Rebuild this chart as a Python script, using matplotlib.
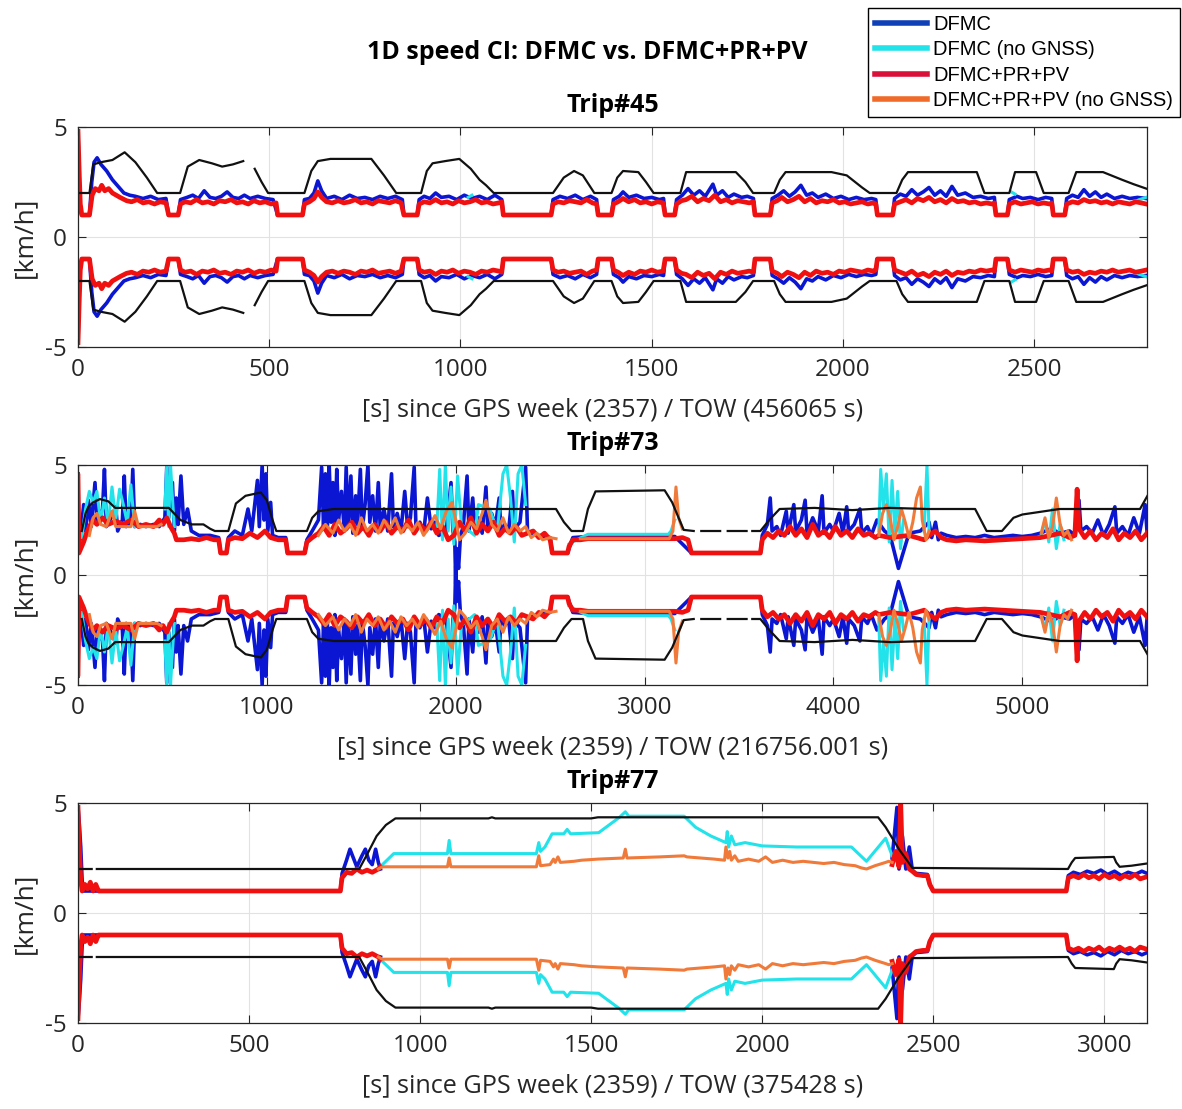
import numpy as np
import matplotlib.pyplot as plt
from matplotlib.lines import Line2D

nan = np.nan

# ---- data: upper CI bound (time [s], km/h); lower bound drawn as the mirror ----
# Trip#45
t45_black = [(5, 2.0), (30, 2.0), (40, 3.3), (60, 3.4), (90, 3.5), (122, 3.85), (150, 3.4), (180, 2.7),
             (207, 2.0), (267, 2.0), (287, 3.2), (317, 3.5), (350, 3.35), (377, 3.2), (405, 3.3), (432, 3.45),
             (nan, nan), (462, 3.1), (480, 2.5), (497, 2.0), (592, 2.0), (610, 3.0), (627, 3.45), (660, 3.55),
             (700, 3.55), (767, 3.55), (800, 2.8), (832, 2.0), (897, 2.0), (912, 3.0), (927, 3.35), (960, 3.45),
             (997, 3.55), (1027, 3.1), (1050, 2.6), (1067, 2.35), (1087, 2.0), (1242, 2.0), (1270, 2.7),
             (1297, 3.0), (1320, 2.8), (1350, 2.0), (1395, 2.0), (1410, 2.7), (1425, 3.0), (1465, 2.95),
             (1485, 2.5), (1505, 2.0), (1575, 2.0), (1590, 2.95), (1720, 2.95), (1745, 2.5), (1765, 2.0),
             (1820, 2.0), (1835, 2.6), (1850, 2.95), (1970, 2.95), (2010, 2.8), (2050, 2.25), (2070, 2.0),
             (2140, 2.0), (2155, 2.6), (2170, 2.95), (2350, 2.95), (2370, 2.0), (2435, 2.0), (2450, 2.95),
             (2505, 2.95), (2525, 2.0), (2590, 2.0), (2610, 2.95), (2680, 2.95), (2730, 2.6), (2760, 2.4),
             (2793, 2.2)]
t45_blue = [(0, 4.8), (3, 2.5), (6, 1.2), (10, 1.0), (30, 1.0), (36, 2.5), (42, 3.4), (50, 3.6), (60, 3.3),
            (75, 3.0), (90, 2.6), (105, 2.3), (120, 2.0), (135, 1.9), (150, 1.85), (170, 1.75), (190, 1.85),
            (210, 1.7), (230, 1.75), (237, 1.0), (262, 1.0), (268, 1.7), (285, 1.8), (300, 1.9), (315, 1.75),
            (330, 2.1), (345, 1.8), (360, 1.75), (375, 1.85), (390, 2.05), (405, 1.8), (420, 1.75), (435, 1.9),
            (450, 1.75), (470, 1.85), (490, 1.75), (510, 1.7), (522, 1.0), (587, 1.0), (592, 1.7), (605, 1.75),
            (617, 2.0), (627, 2.55), (637, 2.1), (650, 1.75), (670, 1.85), (690, 1.7), (710, 1.9), (730, 1.75),
            (750, 1.8), (770, 1.7), (790, 1.85), (810, 1.75), (830, 1.85), (848, 1.7), (852, 1.0), (887, 1.0),
            (892, 1.7), (905, 1.85), (920, 1.75), (935, 2.0), (950, 1.8), (970, 1.85), (990, 1.7), (1010, 1.9),
            (1030, 1.75), (1050, 1.85), (1070, 1.7), (1090, 1.9), (1108, 1.7), (1112, 1.0), (1237, 1.0),
            (1242, 1.7), (1260, 1.85), (1280, 1.75), (1300, 1.9), (1320, 1.7), (1340, 1.85), (1356, 1.7),
            (1360, 1.0), (1395, 1.0), (1400, 1.7), (1415, 1.85), (1425, 2.05), (1440, 1.8), (1460, 1.9),
            (1480, 1.75), (1500, 1.8), (1520, 1.7), (1531, 1.75), (1535, 1.0), (1560, 1.0), (1565, 1.7),
            (1580, 1.9), (1595, 2.2), (1610, 1.9), (1625, 2.1), (1640, 1.85), (1660, 2.4), (1670, 1.9),
            (1685, 2.1), (1700, 1.8), (1715, 1.95), (1735, 1.8), (1750, 1.85), (1766, 1.75), (1770, 1.0),
            (1810, 1.0), (1815, 1.75), (1830, 1.9), (1845, 2.1), (1860, 1.85), (1875, 2.05), (1890, 2.35),
            (1905, 1.9), (1920, 2.0), (1935, 1.8), (1955, 1.95), (1975, 1.75), (1995, 1.85), (2015, 1.7),
            (2035, 1.8), (2055, 1.7), (2075, 1.75), (2086, 1.7), (2090, 1.0), (2130, 1.0), (2135, 1.75),
            (2150, 1.95), (2165, 1.85), (2180, 2.15), (2195, 1.9), (2210, 2.05), (2225, 2.25), (2240, 1.9),
            (2255, 2.1), (2270, 1.85), (2285, 2.3), (2300, 1.9), (2320, 2.0), (2340, 1.8), (2360, 1.85),
            (2380, 1.75), (2396, 1.8), (2400, 1.0), (2430, 1.0), (2435, 1.7), (2455, 1.85), (2470, 1.75),
            (2490, 1.8), (2510, 1.7), (2530, 1.8), (2546, 1.75), (2550, 1.0), (2580, 1.0), (2585, 1.75),
            (2600, 1.9), (2615, 1.8), (2630, 2.15), (2645, 1.85), (2660, 2.05), (2675, 1.8), (2690, 1.95),
            (2710, 1.75), (2730, 1.85), (2750, 1.75), (2770, 1.8), (2793, 1.75)]
t45_cyan = [(1020, 1.8), (1030, 1.9), (nan, nan), (2440, 2.05), (2450, 1.95), (nan, nan), (2775, 1.7), (2793, 1.8)]
t45_red = [(0, 4.8), (3, 3.0), (6, 1.5), (10, 1.0), (30, 1.0), (37, 1.9), (45, 2.2), (55, 2.1), (62, 2.35),
           (70, 2.1), (80, 2.2), (90, 2.0), (100, 1.9), (110, 1.8), (127, 1.65), (140, 1.6), (155, 1.7),
           (170, 1.55), (185, 1.6), (200, 1.5), (215, 1.6), (230, 1.55), (237, 1.0), (262, 1.0), (268, 1.5),
           (280, 1.6), (295, 1.55), (310, 1.7), (325, 1.55), (340, 1.6), (355, 1.5), (370, 1.65), (385, 1.6),
           (400, 1.7), (415, 1.55), (430, 1.6), (445, 1.5), (460, 1.65), (475, 1.55), (490, 1.6), (505, 1.5),
           (518, 1.55), (522, 1.0), (587, 1.0), (592, 1.5), (605, 1.6), (617, 1.75), (627, 2.05), (637, 1.8),
           (650, 1.6), (665, 1.55), (680, 1.65), (695, 1.55), (710, 1.6), (725, 1.7), (740, 1.55), (755, 1.6),
           (770, 1.5), (785, 1.65), (800, 1.6), (815, 1.55), (830, 1.65), (845, 1.55), (852, 1.0), (887, 1.0),
           (892, 1.5), (905, 1.6), (920, 1.55), (935, 1.7), (950, 1.55), (965, 1.6), (980, 1.5), (995, 1.65),
           (1010, 1.55), (1025, 1.6), (1040, 1.7), (1055, 1.55), (1070, 1.6), (1085, 1.5), (1100, 1.55),
           (1108, 1.6), (1112, 1.0), (1237, 1.0), (1242, 1.5), (1255, 1.6), (1270, 1.55), (1285, 1.65),
           (1300, 1.6), (1315, 1.55), (1330, 1.7), (1345, 1.55), (1356, 1.5), (1360, 1.0), (1395, 1.0),
           (1400, 1.5), (1412, 1.6), (1425, 1.75), (1440, 1.6), (1455, 1.7), (1470, 1.55), (1485, 1.6),
           (1500, 1.5), (1515, 1.6), (1530, 1.55), (1535, 1.0), (1560, 1.0), (1565, 1.5), (1578, 1.65),
           (1590, 1.7), (1605, 1.85), (1620, 1.6), (1635, 1.75), (1650, 1.65), (1665, 1.9), (1680, 1.6),
           (1695, 1.7), (1710, 1.55), (1725, 1.65), (1740, 1.6), (1755, 1.55), (1766, 1.6), (1770, 1.0),
           (1810, 1.0), (1815, 1.55), (1828, 1.65), (1840, 1.8), (1855, 1.6), (1870, 1.7), (1885, 1.85),
           (1900, 1.6), (1915, 1.75), (1930, 1.55), (1945, 1.65), (1960, 1.6), (1975, 1.7), (1990, 1.55),
           (2005, 1.6), (2020, 1.5), (2035, 1.55), (2050, 1.6), (2065, 1.5), (2080, 1.55), (2086, 1.5),
           (2090, 1.0), (2130, 1.0), (2135, 1.5), (2150, 1.6), (2165, 1.7), (2180, 1.55), (2195, 1.75),
           (2210, 1.65), (2225, 1.8), (2240, 1.6), (2255, 1.7), (2270, 1.55), (2285, 1.75), (2300, 1.6),
           (2315, 1.65), (2330, 1.55), (2345, 1.6), (2360, 1.5), (2375, 1.55), (2390, 1.5), (2396, 1.55),
           (2400, 1.0), (2430, 1.0), (2435, 1.5), (2450, 1.6), (2465, 1.5), (2480, 1.55), (2495, 1.6),
           (2510, 1.5), (2525, 1.55), (2540, 1.5), (2546, 1.55), (2550, 1.0), (2580, 1.0), (2585, 1.5),
           (2600, 1.6), (2615, 1.55), (2630, 1.7), (2645, 1.6), (2660, 1.65), (2675, 1.55), (2690, 1.6),
           (2705, 1.5), (2720, 1.6), (2735, 1.55), (2750, 1.5), (2765, 1.6), (2780, 1.55), (2793, 1.5)]
t45_orange = []

# Trip#73
t73_black = [(20, 2.0), (40, 2.8), (55, 3.1), (80, 3.3), (116, 3.45), (160, 3.35), (197, 3.05), (481, 3.05),
             (542, 2.5), (603, 2.3), (664, 2.3), (700, 2.1), (725, 2.0), (796, 2.0), (836, 3.25), (887, 3.6),
             (968, 3.75), (1000, 3.4), (1030, 2.5), (1050, 2.0), (1212, 2.0), (1240, 2.6), (1273, 2.9),
             (1354, 3.0), (2531, 3.0), (2573, 2.4), (2613, 2.0), (2674, 2.0), (2700, 3.0), (2740, 3.8),
             (3106, 3.85), (3146, 3.3), (3180, 2.6), (3207, 2.05), (3260, 2.0), (nan, nan), (3300, 2.0),
             (3400, 2.0), (nan, nan), (3440, 2.0), (3540, 2.0), (nan, nan), (3570, 2.0), (3613, 2.0),
             (3660, 2.5), (3715, 3.0), (3900, 3.05), (4100, 2.95), (4300, 3.05), (4500, 3.0), (4750, 3.0),
             (4811, 2.0), (4892, 2.0), (4953, 2.6), (5000, 2.75), (5197, 3.0), (5623, 3.0), (5669, 3.7)]
t73_blue = [(0, 4.6), (5, 1.2), (20, 2.3), (30, 3.2), (40, 2.0), (55, 3.4), (70, 2.2), (90, 4.2), (100, 2.5),
            (130, 3.0), (140, 4.8), (150, 2.2), (175, 2.6), (200, 3.1), (210, 2.0), (235, 2.5), (245, 4.5),
            (255, 2.2), (280, 2.4), (290, 4.8), (300, 2.2), (330, 2.3), (360, 2.2), (400, 2.3), (430, 2.2),
            (460, 2.6), (470, 4.9), (480, 2.6), (500, 4.2), (510, 2.0), (520, 3.5), (530, 2.3), (545, 4.5),
            (560, 2.3), (580, 3.0), (600, 2.0), (640, 1.8), (700, 1.8), (745, 1.7), (755, 1.0), (786, 1.0),
            (796, 1.7), (830, 2.0), (870, 1.8), (900, 3.0), (920, 2.0), (950, 4.3), (960, 2.2), (975, 5.0),
            (985, 2.5), (995, 4.6), (1005, 2.0), (1020, 3.3), (1030, 1.8), (1060, 1.7), (1100, 1.7),
            (1110, 1.0), (1200, 1.0), (1212, 1.6), (1240, 2.0), (1273, 2.5), (1290, 4.9), (1300, 2.2),
            (1310, 4.6), (1320, 2.0), (1330, 5.0), (1340, 2.4), (1350, 4.2), (1360, 1.8), (1370, 4.8),
            (1380, 2.5), (1395, 3.8), (1410, 2.0), (1420, 4.9), (1430, 2.2), (1445, 4.5), (1455, 1.9),
            (1470, 3.6), (1480, 2.3), (1495, 4.8), (1505, 2.1), (1520, 3.2), (1535, 5.0), (1545, 2.4),
            (1560, 3.6), (1575, 2.0), (1590, 4.2), (1600, 2.2), (1620, 3.0), (1640, 2.0), (1660, 4.6),
            (1670, 2.2), (1690, 2.8), (1710, 2.0), (1730, 3.8), (1745, 2.2), (1760, 2.6), (1780, 4.9),
            (1790, 2.0), (1810, 2.4), (1830, 1.9), (1850, 3.5), (1870, 2.1), (1890, 2.4), (1910, 1.8),
            (1950, 2.0), (1975, 4.2), (1985, 2.0), (1995, 1.5), (2000, -0.4), (2005, 1.2), (2015, 0.3),
            (2025, 1.8), (2040, 2.2), (2060, 4.5), (2070, 2.0), (2090, 3.5), (2100, 2.2), (2120, 2.6),
            (2140, 1.9), (2160, 4.0), (2170, 2.0), (2190, 2.8), (2210, 2.2), (2230, 3.5), (2240, 1.9),
            (2260, 2.3), (2280, 2.0), (2300, 3.8), (2310, 2.1), (2340, 2.4), (2370, 4.9), (2380, 2.0),
            (2400, 1.9), (2440, 1.8), (2500, 1.7), (2511, 1.0), (2592, 1.0), (2620, 1.7), (2700, 1.75),
            (3160, 1.75), (3248, 1.0), (3613, 1.0), (3623, 1.8), (3650, 2.3), (3665, 3.5), (3675, 2.0),
            (3700, 2.2), (3720, 1.8), (3750, 2.9), (3760, 1.9), (3790, 3.2), (3800, 2.0), (3830, 2.5),
            (3850, 3.4), (3860, 1.9), (3890, 2.6), (3920, 2.0), (3940, 3.6), (3950, 1.9), (3980, 2.3),
            (4000, 2.0), (4030, 2.8), (4050, 1.9), (4070, 3.1), (4080, 2.0), (4110, 2.3), (4140, 3.0),
            (4150, 1.9), (4180, 2.2), (4200, 1.8), (4230, 2.5), (4270, 2.0), (4300, 1.8), (4344, 0.3),
            (4400, 1.9), (4460, 2.0), (4506, 2.4), (4520, 1.7), (4540, 2.4), (4555, 1.6), (4570, 1.9),
            (4600, 1.8), (4650, 1.7), (4700, 1.75), (4750, 1.7), (4800, 1.8), (4850, 1.7), (4900, 1.75),
            (4950, 1.8), (5000, 1.75), (5050, 1.8), (5095, 1.9), (5150, 2.1), (5200, 1.9), (5250, 2.0),
            (5280, 1.8), (5300, 3.4), (5310, 2.0), (5340, 2.2), (5370, 1.9), (5400, 2.5), (5430, 1.8),
            (5460, 2.3), (5490, 3.1), (5500, 1.9), (5530, 2.2), (5560, 1.8), (5590, 2.6), (5620, 1.9),
            (5650, 3.2), (5660, 2.0)]
t73_cyan = [(20, 1.7), (40, 3.0), (60, 3.8), (80, 3.3), (100, 3.8), (120, 2.4), (140, 3.5), (160, 2.3),
            (180, 4.0), (200, 2.5), (220, 3.9), (240, 3.2), (260, 2.4), (280, 4.1), (300, 2.2), (nan, nan),
            (460, 3.0), (470, 5.0), (480, 2.2), (490, 5.0), (500, 3.5), (510, 2.2), (nan, nan),
            (1900, 2.2), (1915, 4.8), (1930, 1.6), (1945, 5.0), (1960, 2.0), (1975, 4.0), (1990, 1.4),
            (2010, 4.5), (2030, 2.3), (2100, 1.8), (2120, 3.2), (2180, 3.0), (2220, 2.0), (2250, 4.6),
            (2270, 5.0), (2290, 3.5), (2310, 1.5), (2330, 4.6), (2350, 5.0), (2370, 3.2), (nan, nan),
            (2600, 1.4), (2640, 1.6), (2700, 1.85), (3126, 1.85), (3140, 2.0), (3160, 2.5), (nan, nan),
            (4240, 2.0), (4250, 4.8), (4265, 3.0), (4280, 4.6), (4295, 1.5), (4310, 4.3), (4325, 2.0),
            (4340, 3.8), (4355, 1.2), (4370, 2.5), (nan, nan), (4480, 2.0), (4495, 5.0), (4506, 2.0),
            (nan, nan), (5100, 1.8), (5120, 2.5), (5140, 1.5), (5160, 3.0), (5180, 1.2), (5200, 2.3),
            (5220, 1.6)]
t73_red = [(0, 4.5), (5, 1.0), (15, 1.2), (30, 1.5), (45, 1.9), (60, 2.2), (80, 2.5), (100, 2.3), (130, 2.6),
           (160, 2.3), (200, 2.45), (240, 2.3), (280, 2.5), (320, 2.2), (360, 2.3), (400, 2.2), (430, 2.5),
           (450, 2.3), (470, 2.6), (490, 2.2), (510, 1.9), (521, 1.6), (560, 1.6), (600, 1.65), (640, 1.6),
           (680, 1.7), (720, 1.6), (745, 1.6), (755, 1.0), (786, 1.0), (796, 1.6), (830, 1.7), (870, 1.65),
           (910, 1.9), (950, 1.7), (990, 2.0), (1020, 1.7), (1060, 1.6), (1100, 1.6), (1110, 1.0),
           (1200, 1.0), (1212, 1.5), (1240, 1.7), (1273, 1.9), (1300, 2.2), (1330, 1.8), (1360, 2.3),
           (1390, 1.9), (1420, 2.1), (1450, 2.4), (1480, 1.9), (1510, 2.2), (1540, 1.8), (1570, 2.3),
           (1600, 2.0), (1630, 2.4), (1660, 1.9), (1690, 2.2), (1720, 2.0), (1750, 2.5), (1780, 1.9),
           (1810, 2.3), (1840, 2.0), (1870, 2.4), (1900, 1.9), (1930, 2.2), (1960, 1.6), (1990, 1.8),
           (2020, 2.4), (2050, 2.0), (2080, 2.6), (2110, 1.9), (2140, 2.3), (2170, 2.0), (2200, 2.4),
           (2230, 1.8), (2260, 2.1), (2290, 1.9), (2320, 2.2), (2350, 1.8), (2380, 1.9), (2410, 2.0),
           (2440, 1.7), (2470, 1.9), (2500, 1.6), (2511, 1.0), (2592, 1.0), (2600, 1.3), (2620, 1.6),
           (2660, 1.6), (2700, 1.65), (2750, 1.65), (3160, 1.65), (3200, 1.7), (3230, 1.6), (3248, 1.0),
           (3613, 1.0), (3623, 1.6), (3650, 1.9), (3680, 1.7), (3710, 2.0), (3740, 1.8), (3770, 2.2),
           (3800, 1.8), (3830, 2.1), (3860, 1.7), (3890, 2.3), (3920, 1.8), (3950, 2.0), (3980, 1.7),
           (4010, 2.2), (4040, 1.8), (4070, 2.0), (4100, 1.7), (4130, 2.1), (4160, 1.8), (4190, 1.9),
           (4222, 1.7), (4240, 1.8), (4300, 1.7), (4400, 1.8), (4480, 1.6), (4506, 1.8), (4540, 2.0),
           (4570, 1.7), (4600, 1.6), (4650, 1.55), (4700, 1.6), (4800, 1.55), (4900, 1.6), (5000, 1.65),
           (5095, 1.7), (5150, 1.8), (5200, 1.9), (5250, 1.7), (5278, 1.8), (5290, 3.9), (5300, 2.1),
           (5330, 1.7), (5360, 2.0), (5390, 1.6), (5420, 1.9), (5450, 1.7), (5480, 2.1), (5510, 1.6),
           (5540, 1.9), (5570, 1.7), (5600, 2.0), (5630, 1.6), (5660, 1.9)]
t73_orange = [(60, 1.8), (80, 2.6), (100, 2.8), (120, 2.3), (150, 2.2), (180, 2.9), (200, 2.2), (240, 2.2),
              (280, 2.2), (300, 2.9), (320, 2.2), (380, 2.2), (420, 2.2), (440, 2.3), (nan, nan),
              (1273, 1.8), (1310, 2.3), (1350, 1.9), (1380, 2.5), (1410, 2.0), (1440, 2.3), (1470, 1.8),
              (1500, 2.6), (1530, 2.0), (1560, 2.3), (1590, 1.9), (1620, 2.5), (1650, 2.1), (1680, 2.6),
              (1710, 1.9), (1740, 2.3), (1770, 2.0), (1800, 2.4), (1830, 1.8), (1860, 2.2), (1890, 2.7),
              (1920, 2.1), (1950, 2.9), (1980, 3.3), (2000, 2.5), (2020, 1.6), (2050, 1.9), (2080, 2.4),
              (2110, 2.1), (2140, 2.8), (2160, 3.4), (2190, 2.3), (2220, 2.0), (2250, 2.6), (2280, 1.9),
              (2310, 2.3), (2340, 2.0), (2370, 2.2), (2400, 1.7), (2430, 1.9), (2460, 1.6), (2500, 1.7),
              (2531, 1.65), (nan, nan), (2660, 1.65), (3130, 1.65), (3150, 2.0), (3166, 4.0), (3180, 2.6),
              (3200, 2.1), (nan, nan), (4240, 1.8), (4260, 2.8), (4280, 3.2), (4300, 2.6), (4320, 1.6),
              (4340, 2.2), (4360, 3.0), (4380, 2.4), (4400, 1.7), (4420, 2.4), (4440, 3.5), (4460, 4.0),
              (4470, 2.5), (4490, 1.6), (4506, 2.0), (nan, nan), (5100, 1.9), (5120, 2.6), (5140, 1.7),
              (5160, 2.2), (5180, 3.5), (5200, 2.3), (5220, 1.8), (5240, 2.0), (5260, 1.6)]

# Trip#77
t77_black = [(0, 2.0), (40, 2.0), (nan, nan), (55, 2.0), (822, 2.0), (845, 2.66), (873, 3.5), (900, 4.0),
             (928, 4.3), (1200, 4.3), (1210, 4.35), (1220, 4.3), (1500, 4.3), (1520, 4.35), (2339, 4.35),
             (2361, 3.9), (2400, 2.9), (2439, 2.05), (2894, 2.0), (2905, 2.3), (2915, 2.5), (3028, 2.55),
             (3035, 2.3), (3045, 2.1), (3080, 2.15), (3125, 2.25)]
t77_blue = [(0, 4.8), (4, 4.0), (8, 3.0), (12, 1.5), (16, 1.0), (64, 1.0), (767, 1.0), (772, 1.8), (785, 2.4),
            (795, 2.9), (805, 2.5), (815, 2.1), (830, 2.6), (840, 2.9), (850, 2.4), (860, 2.2), (870, 2.9),
            (878, 2.3), (884, 2.0), (nan, nan), (2380, 2.5), (2394, 4.8), (2400, 2.0), (2410, 3.5),
            (2420, 2.0), (2430, 3.0), (2439, 1.95), (2450, 1.8), (2483, 1.75), (2490, 1.3), (2500, 1.0),
            (2889, 1.0), (2895, 1.7), (2910, 1.85), (2930, 1.75), (2950, 1.9), (2970, 1.8), (2990, 1.95),
            (3010, 1.75), (3030, 1.9), (3050, 1.7), (3070, 1.85), (3090, 1.75), (3110, 1.9), (3125, 1.8)]
t77_cyan = [(878, 2.0), (890, 2.2), (923, 2.7), (1080, 2.7), (1085, 3.3), (1090, 2.7), (1340, 2.7),
            (1347, 3.2), (1352, 2.8), (1365, 3.0), (1386, 3.6), (1420, 3.6), (1430, 3.8), (1440, 3.6),
            (1522, 3.65), (1583, 4.35), (1600, 4.6), (1610, 4.4), (1772, 4.4), (1805, 3.9), (1850, 3.5),
            (1894, 3.2), (1898, 3.7), (1902, 3.0), (1910, 3.5), (1920, 3.1), (1950, 3.2), (2000, 3.05),
            (2100, 3.0), (2200, 3.0), (2261, 3.0), (2305, 2.35), (2361, 3.4), (2380, 2.6)]
t77_red = [(0, 4.8), (4, 3.0), (8, 1.5), (12, 1.0), (20, 1.3), (28, 1.1), (36, 1.4), (44, 1.0), (52, 1.3),
           (60, 1.0), (64, 1.0), (767, 1.0), (772, 1.6), (785, 1.85), (800, 1.8), (815, 2.0), (830, 1.85),
           (845, 1.95), (860, 1.85), (878, 2.0), (884, 2.1), (nan, nan), (2380, 2.2), (2390, 2.8),
           (2400, 2.1), (2405, 5.0), (2410, 2.3), (2420, 2.7), (2430, 2.0), (2439, 1.9), (2450, 1.75),
           (2470, 1.7), (2483, 1.7), (2490, 1.3), (2500, 1.0), (2889, 1.0), (2895, 1.6), (2910, 1.7),
           (2925, 1.6), (2940, 1.75), (2955, 1.6), (2970, 1.7), (2985, 1.55), (3000, 1.75), (3015, 1.6),
           (3030, 1.7), (3045, 1.55), (3060, 1.7), (3075, 1.6), (3090, 1.75), (3105, 1.55), (3125, 1.65)]
t77_orange = [(878, 2.0), (890, 2.1), (920, 2.1), (1000, 2.1), (1080, 2.1), (1085, 2.5), (1090, 2.1),
              (1200, 2.1), (1340, 2.1), (1347, 2.6), (1352, 2.15), (1380, 2.2), (1390, 2.45), (1395, 2.3),
              (1403, 2.55), (1410, 2.3), (1450, 2.35), (1472, 2.4), (1520, 2.45), (1594, 2.5), (1600, 2.9),
              (1605, 2.5), (1700, 2.55), (1772, 2.6), (1780, 2.55), (1820, 2.5), (1860, 2.45), (1890, 2.4),
              (1894, 3.0), (1900, 2.5), (1905, 2.8), (1910, 2.4), (1920, 2.6), (1930, 2.35), (1960, 2.45),
              (1990, 2.35), (2010, 2.55), (2030, 2.3), (2060, 2.4), (2090, 2.3), (2120, 2.35), (2150, 2.3),
              (2180, 2.25), (2210, 2.3), (2240, 2.2), (2272, 2.15), (2290, 2.05), (2305, 2.0), (2330, 2.15),
              (2361, 2.3), (2370, 2.35), (2380, 2.3)]

trips = ['Trip#45', 'Trip#73', 'Trip#77']
xlabels = ['[s] since GPS week (2357) / TOW (456065 s)',
           '[s] since GPS week (2359) / TOW (216756.001 s)',
           '[s] since GPS week (2359) / TOW (375428 s)']
xmax = [2795, 5660, 3125]
xticks = [np.arange(0, 2501, 500), np.arange(0, 5001, 1000), np.arange(0, 3001, 500)]
series = [[t45_blue, t45_cyan, t45_red, t45_orange, t45_black],
          [t73_blue, t73_cyan, t73_red, t73_orange, t73_black],
          [t77_blue, t77_cyan, t77_red, t77_orange, t77_black]]

names = ['DFMC', 'DFMC (no GNSS)', 'DFMC+PR+PV', 'DFMC+PR+PV (no GNSS)']
colors = ['#0a16d2', '#22e2ea', '#f01010', '#f07a3a', '#111111']
widths = [2.6, 2.2, 3.4, 2.2, 1.6]
leg_colors = ['#1040b8', '#22e2ea', '#d8103a', '#f06a2a']

plt.rcParams['font.family'] = ['Open Sans', 'Noto Sans', 'DejaVu Sans']
plt.rcParams['axes.unicode_minus'] = False
fig = plt.figure(figsize=(11.82, 11.09), dpi=100)

tops = [127, 465, 803]
for i in range(3):
    ax = fig.add_axes([78 / 1182, 1 - (tops[i] + 220) / 1109, 1069 / 1182, 220 / 1109])
    for s, c, lw in zip(series[i], colors, widths):
        if len(s) == 0:
            continue
        d = np.array(s, dtype=float)
        ax.plot(d[:, 0], d[:, 1], color=c, lw=lw)
        ax.plot(d[:, 0], -d[:, 1], color=c, lw=lw)
    ax.set_xlim(0, xmax[i])
    ax.set_ylim(-5, 5)
    ax.set_xticks(xticks[i])
    ax.set_yticks([-5, 0, 5])
    ax.grid(True, color='#e2e2e2', lw=0.8)
    ax.set_axisbelow(True)
    ax.tick_params(direction='in', top=True, right=True, length=6, width=0.8,
                   labelsize=17.5, colors='#262626', pad=8)
    for sp in ax.spines.values():
        sp.set_color('#262626')
        sp.set_linewidth(0.9)
    ax.set_title(trips[i], fontsize=18, fontweight='bold', pad=11)
    ax.set_xlabel(xlabels[i], fontsize=18.2, color='#262626', labelpad=11)
    ax.set_ylabel('[km/h]', fontsize=19, color='#262626', labelpad=6)

fig.text(0.497, 0.953, '1D speed CI: DFMC vs. DFMC+PR+PV', ha='center', va='center',
         fontsize=18, fontweight='bold')

handles = [Line2D([0], [0], color=c, lw=4) for c in leg_colors]
leg = fig.legend(handles, names, loc='upper right', bbox_to_anchor=(1180 / 1182, 1 - 8 / 1109),
                 prop={'family': 'Liberation Sans', 'size': 14.5}, frameon=True, fancybox=False,
                 framealpha=1, edgecolor='black', handlelength=2.6, handletextpad=0.3,
                 labelspacing=0.32, borderpad=0.35, borderaxespad=0)
leg.get_frame().set_linewidth(1.0)

fig.savefig('out.png', dpi=100)
